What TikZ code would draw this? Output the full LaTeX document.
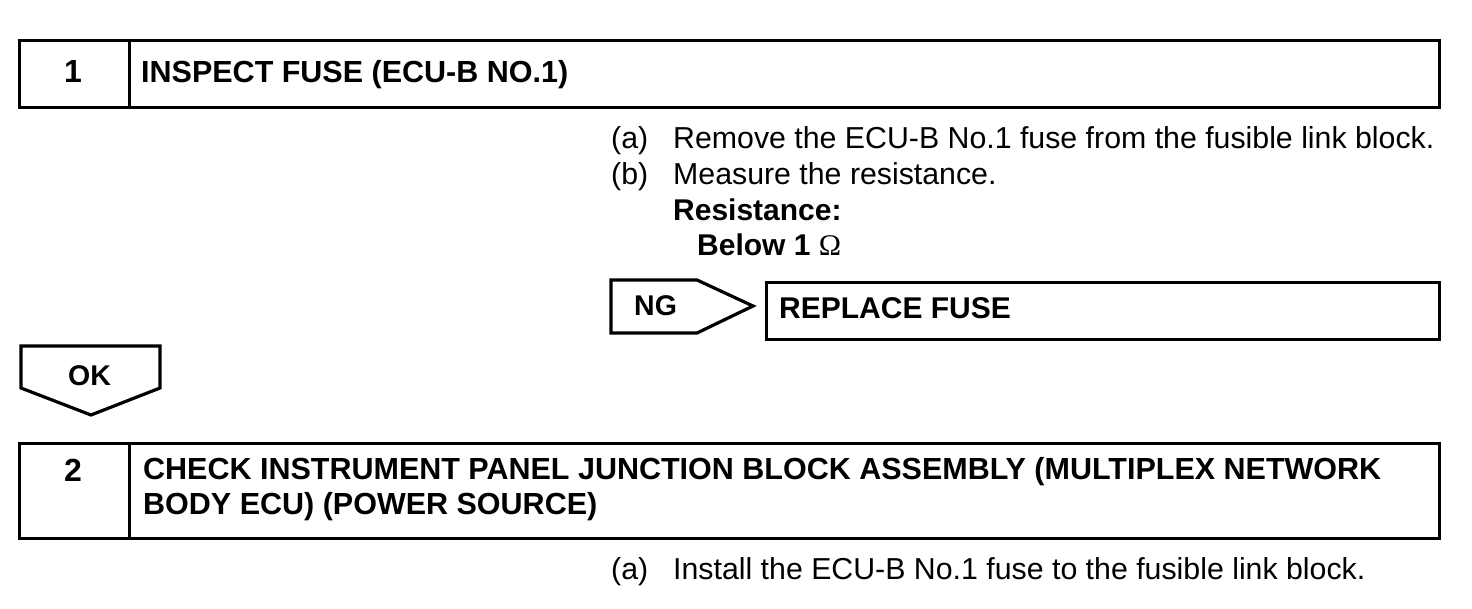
\documentclass[tikz,border=0pt]{standalone}
\usepackage{fontspec}
\setmainfont{Liberation Sans}
\newfontfamily\omegafont{Liberation Serif}
\begin{document}
\begin{tikzpicture}[x=1pt,y=-1pt,
  frame/.style={draw,line width=3.2pt,inner sep=0pt,anchor=north west},
  body/.style={anchor=base west,inner sep=0pt,font=\fontsize{30.3}{36}\selectfont},
  bodyb/.style={anchor=base west,inner sep=0pt,font=\fontsize{30}{36}\selectfont\bfseries},
  tagtxt/.style={anchor=base west,inner sep=0pt,font=\fontsize{28.5}{34}\selectfont\bfseries},
  title/.style={anchor=base west,inner sep=0pt,font=\fontsize{30.5}{36}\selectfont\bfseries},
  num/.style={anchor=base,inner sep=0pt,font=\fontsize{32}{38}\selectfont\bfseries},
  tag/.style={draw,line width=3.2pt,line join=miter}]
\useasboundingbox (0,0) rectangle (1472,608);
% step 1
\node[frame,minimum width=110pt,minimum height=67pt] (n1) at (18,39) {};
\node[frame,minimum width=1310pt,minimum height=67pt] (t1) at (128,39) {};
\node[num] (n1txt) at (73,82) {1};
\node[title] (t1txt) at (141,82) {INSPECT FUSE (ECU-B NO.1)};
% instructions 1
\node[body] (a1) at (611,148) {(a)};
\node[body] (a1t) at (673,148) {Remove the ECU-B No.1 fuse from the fusible link block.};
\node[body] (b1) at (611,184) {(b)};
\node[body] (b1t) at (673,184) {Measure the resistance.};
\node[bodyb] (r1) at (673,220) {Resistance:};
\node[bodyb] (r2) at (697,255) {Below 1 {\omegafont\mdseries Ω}};
% NG tag
\coordinate (ng1) at (611,280);
\coordinate (ng2) at (697,280);
\coordinate (ng3) at (753,306);
\coordinate (ng4) at (697,333);
\coordinate (ng5) at (611,333);
\draw[tag] (ng1) -- (ng2) -- (ng3) -- (ng4) -- (ng5) -- cycle;
\node[tagtxt] (ngtxt) at (634,315) {NG};
\node[frame,minimum width=673pt,minimum height=57pt] (rep) at (765,281) {};
\node[bodyb] (reptxt) at (779,318) {REPLACE FUSE};
% OK tag
\coordinate (ok1) at (21,346);
\coordinate (ok2) at (160,346);
\coordinate (ok3) at (160,388);
\coordinate (ok4) at (91,415);
\coordinate (ok5) at (21,388);
\draw[tag] (ok1) -- (ok2) -- (ok3) -- (ok4) -- (ok5) -- cycle;
\node[tagtxt] (oktxt) at (68,385) {OK};
% step 2
\node[frame,minimum width=110pt,minimum height=95pt] (n2) at (18,442) {};
\node[frame,minimum width=1310pt,minimum height=95pt] (t2) at (128,442) {};
\node[num] (n2txt) at (73,481) {2};
\node[title] (t2a) at (143,479) {CHECK INSTRUMENT PANEL JUNCTION BLOCK ASSEMBLY (MULTIPLEX NETWORK};
\node[title] (t2b) at (143,514) {BODY ECU) (POWER SOURCE)};
% instructions 2
\node[body] (a2) at (611,579) {(a)};
\node[body] (a2t) at (673,579) {Install the ECU-B No.1 fuse to the fusible link block.};
\end{tikzpicture}
\end{document}
